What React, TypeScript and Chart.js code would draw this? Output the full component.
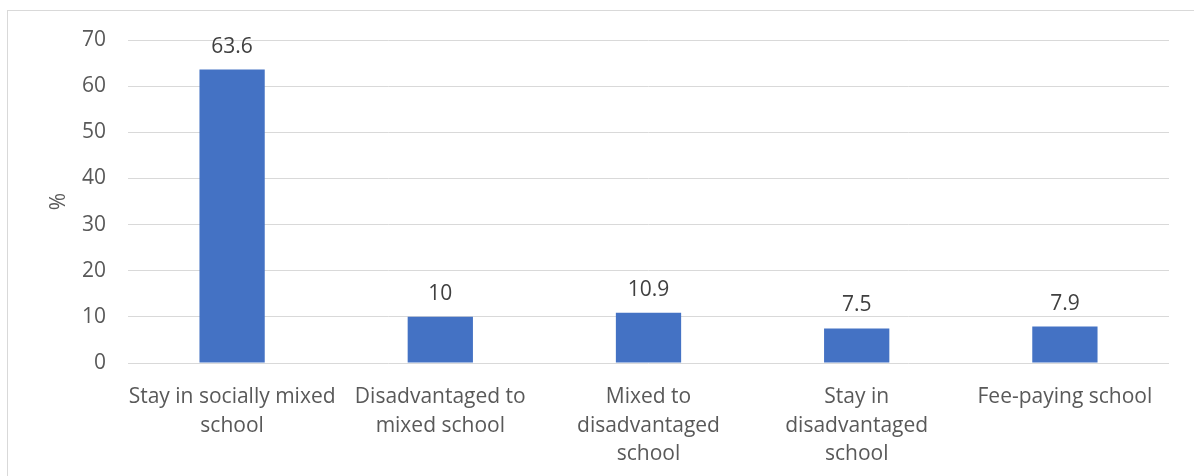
import React, { useEffect, useRef } from "react";
import { Chart, registerables } from "chart.js";

Chart.register(...registerables);

const categories: (string | string[])[] = [
  ["Stay in socially mixed", "school"],
  ["Disadvantaged to", "mixed school"],
  ["Mixed to", "disadvantaged", "school"],
  ["Stay in", "disadvantaged", "school"],
  "Fee-paying school",
];
const values: number[] = [63.6, 10, 10.9, 7.5, 7.9];
const yMin = 0;
const yMax = 70;
const yStep = 10;
const yTitle = "%";

const FONT = "'Open Sans', 'Noto Sans', sans-serif";
const FS = 21;

const borderPlugin = {
  id: "outerBorder",
  beforeDraw(chart: any) {
    const { ctx } = chart;
    ctx.save();
    ctx.fillStyle = "#ffffff";
    ctx.fillRect(0, 0, chart.width, chart.height);
    ctx.strokeStyle = "#d9d9d9";
    ctx.lineWidth = 1;
    ctx.strokeRect(7.5, 10.5, chart.width + 20, chart.height + 20);
    ctx.restore();
  },
};

const dataLabelPlugin = {
  id: "dataLabels",
  afterDatasetsDraw(chart: any) {
    const { ctx } = chart;
    ctx.save();
    ctx.font = `${FS}px ${FONT}`;
    ctx.fillStyle = "#404040";
    ctx.textAlign = "center";
    ctx.textBaseline = "middle";
    chart.data.datasets.forEach((ds: any, i: number) => {
      const meta = chart.getDatasetMeta(i);
      meta.data.forEach((el: any, j: number) => {
        ctx.fillText(String(ds.data[j]), el.x, el.y - 23);
      });
    });
    ctx.restore();
  },
};

export default function App() {
  const ref = useRef<HTMLCanvasElement>(null);
  useEffect(() => {
    if (!ref.current) return;
    const chart = new Chart(ref.current, {
      type: "bar",
      data: {
        labels: categories,
        datasets: [
          {
            data: values,
            backgroundColor: "#4472C4",
            categoryPercentage: 1,
            barPercentage: 0.3135,
          },
        ],
      },
      options: {
        responsive: false,
        animation: false,
        devicePixelRatio: 1,
        layout: { padding: { top: 40, right: 25, bottom: 0, left: 0 } },
        plugins: {
          legend: { display: false },
          tooltip: { enabled: false },
        },
        scales: {
          x: {
            grid: { display: false, drawTicks: false },
            border: { display: false },
            ticks: {
              color: "#595959",
              font: { family: FONT, size: FS, lineHeight: 28.5 / FS },
              padding: 20,
              maxRotation: 0,
              autoSkip: false,
            },
            afterFit: (s: any) => {
              s.height = 113;
            },
          },
          y: {
            min: yMin,
            max: yMax,
            grid: { color: "#d9d9d9", lineWidth: 1, drawTicks: false },
            border: { display: false },
            ticks: {
              stepSize: yStep,
              color: "#595959",
              font: { family: FONT, size: FS },
              padding: 22,
            },
            title: {
              display: true,
              text: yTitle,
              color: "#595959",
              font: { family: FONT, size: FS },
              padding: { top: 46, bottom: 0 },
            },
            afterFit: (s: any) => {
              s.width = 128;
            },
          },
        },
      },
      plugins: [borderPlugin, dataLabelPlugin],
    });
    return () => chart.destroy();
  }, []);
  return (
    <div style={{ position: "fixed", left: 0, top: 0, width: 1194, height: 476 }}>
      <canvas ref={ref} width={1194} height={476} />
    </div>
  );
}
